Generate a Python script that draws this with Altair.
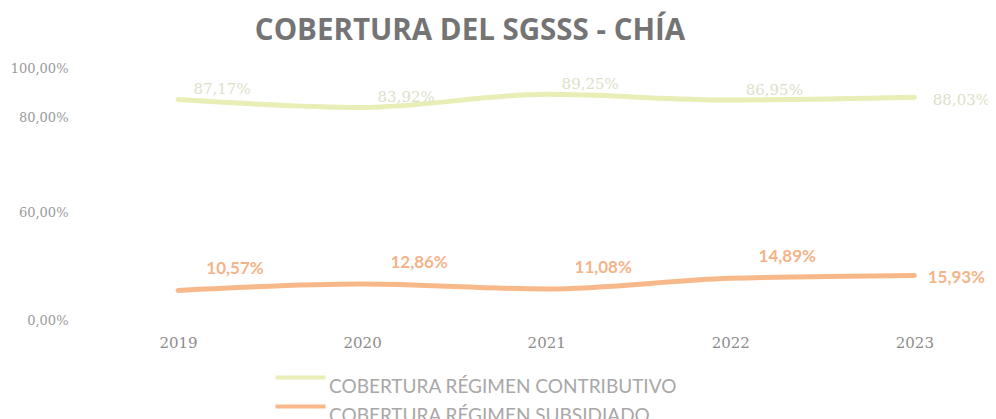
import altair as alt
import pandas as pd

years = [2019, 2020, 2021, 2022, 2023]
contributivo = [87.17, 83.92, 89.25, 86.95, 88.03]
subsidiado = [10.57, 12.86, 11.08, 14.89, 15.93]
series_names = ["COBERTURA RÉGIMEN CONTRIBUTIVO", "COBERTURA RÉGIMEN SUBSIDIADO"]
series_colors = ["#e8eeb6", "#f8b98a"]
label_colors = ["#dcdfc8", "#f4b48a"]
y_ticks = [0, 60, 80, 100]


def fmt(v):
    return f"{v:.2f}".replace(".", ",") + "%"


rows = []
for y, c, s in zip(years, contributivo, subsidiado):
    rows.append({"year": y, "value": c, "serie": series_names[0], "label": fmt(c)})
    rows.append({"year": y, "value": s, "serie": series_names[1], "label": fmt(s)})
df = pd.DataFrame(rows)

x = alt.X("year:Q", scale=alt.Scale(domain=[2018.5, 2023.4], nice=False, zero=False),
          axis=alt.Axis(values=years, format="d", title=None, domain=False, ticks=False,
                        grid=False, labelFont="DejaVu Serif", labelFontSize=15,
                        labelColor="#8c8c8c", labelPadding=10))
y = alt.Y("value:Q", scale=alt.Scale(domain=[0, 20, 60, 80, 100], range=[260, 204, 152, 57, 8],
                                      nice=False, zero=False),
          axis=alt.Axis(values=y_ticks, title=None, domain=False, ticks=False, grid=False,
                        labelExpr="replace(format(datum.value, '.2f'), '.', ',') + '%'",
                        labelFont="DejaVu Serif", labelFontSize=13, labelColor="#9a9a9a",
                        labelPadding=18))

color = alt.Color("serie:N", scale=alt.Scale(domain=series_names, range=series_colors),
                  legend=alt.Legend(title=None, orient="none", legendX=205, legendY=317,
                                    direction="vertical", symbolType="M-5,-1.8H5",
                                    symbolStrokeWidth=4, symbolSize=100,
                                    labelFont="Lato", labelFontSize=19, labelColor="#a8a8a8",
                                    labelLimit=600, rowPadding=1, labelOffset=19))

base = alt.Chart(df)

lines = base.mark_line(interpolate="monotone", strokeWidth=5, strokeCap="round").encode(
    x=x, y=y, color=color, order="year:Q")

lab_c = base.transform_filter((alt.datum.year < 2023) & (alt.datum.serie == series_names[0])).mark_text(
    dx=44, dy=-10, fontSize=15, font="DejaVu Serif", color=label_colors[0]).encode(
    x=x, y=y, text="label:N")
lab_s = base.transform_filter((alt.datum.year < 2023) & (alt.datum.serie == series_names[1])).mark_text(
    dx=57, dy=-21, fontSize=17, font="Lato", fontWeight="bold", color=label_colors[1]).encode(
    x=x, y=y, text="label:N")
last_c = base.transform_filter((alt.datum.year == 2023) & (alt.datum.serie == series_names[0])).mark_text(
    dx=47, dy=3, fontSize=15, font="DejaVu Serif", color=label_colors[0]).encode(
    x=x, y=y, text="label:N")
last_s = base.transform_filter((alt.datum.year == 2023) & (alt.datum.serie == series_names[1])).mark_text(
    dx=42, dy=3, fontSize=17, font="Lato", fontWeight="bold", color=label_colors[1]).encode(
    x=x, y=y, text="label:N")

chart = alt.layer(lines, lab_c, lab_s, last_c, last_s).properties(
    width=902, height=265,
    title=alt.TitleParams("COBERTURA DEL SGSSS - CHÍA", font="Open Sans", fontSize=29.5,
                          fontWeight="bold", color="#747474", anchor="middle", dx=-67,
                          offset=14),
    autosize=alt.AutoSizeParams(type="none"),
    padding={"left": 78, "top": 52, "right": 0, "bottom": 94},
).configure_view(stroke=None)

chart.save("out.html", embed_options={"renderer": "svg", "actions": False})
